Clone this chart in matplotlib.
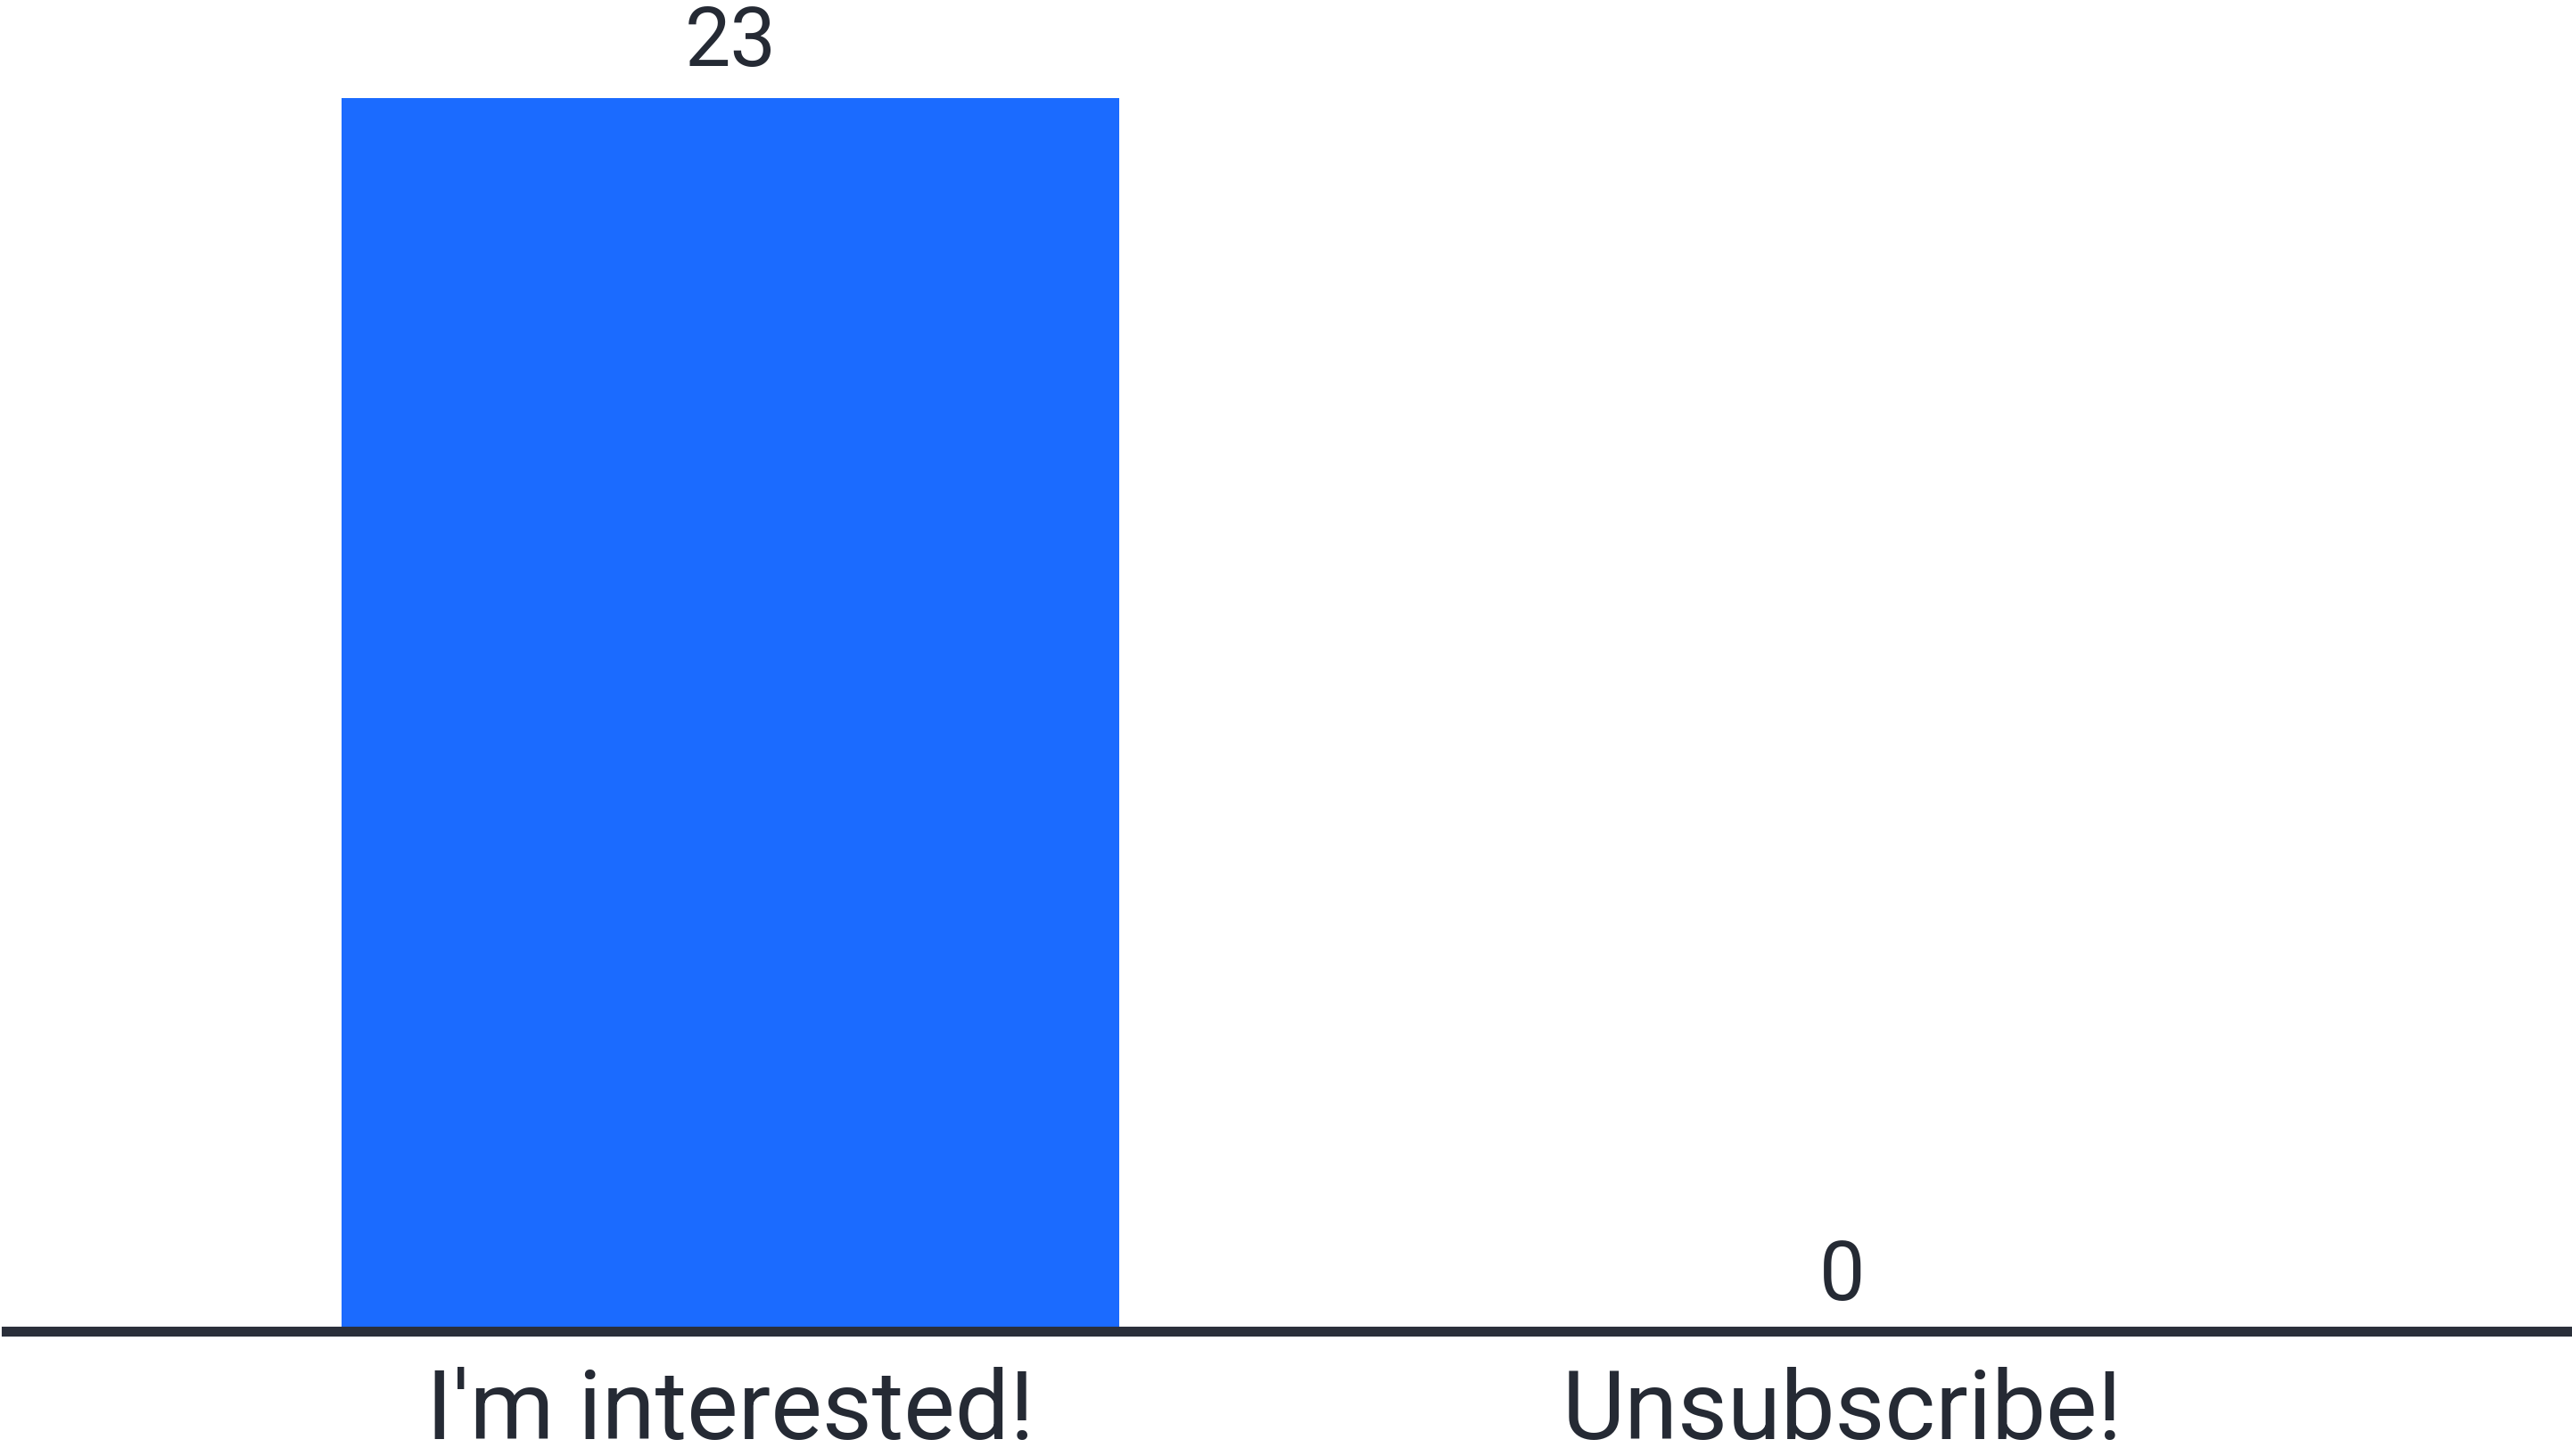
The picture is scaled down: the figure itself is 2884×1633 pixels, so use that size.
import matplotlib.pyplot as plt

# poll results
categories = ["I'm interested!", "Unsubscribe!"]
votes = [23, 0]

bar_color = '#1b6bff'
text_color = '#252a34'

plt.rcParams['font.family'] = ['Roboto', 'DejaVu Sans']

fig = plt.figure(figsize=(14.42, 8.168), dpi=200)
ax = fig.add_axes([7 / 2884, 0.0854, 1 - 7 / 2884, 1 - 0.0854])

x = list(range(len(categories)))
bars = ax.bar(x, votes, width=0.7, color=bar_color, zorder=1)
ax.bar_label(bars, labels=[str(v) for v in votes], padding=6,
             fontsize=33, color=text_color)

ax.set_xlim(-0.652, 1.657)
ax.set_ylim(0, 24.83)

ax.set_xticks(x)
ax.set_xticklabels(categories, fontsize=39, color=text_color)
ax.tick_params(axis='x', length=0, pad=14)
ax.set_yticks([])

for side in ['top', 'left', 'right']:
    ax.spines[side].set_visible(False)
ax.spines['bottom'].set_linewidth(4)
ax.spines['bottom'].set_color('#2a2f3a')
ax.spines['bottom'].set_zorder(3)
ax.patch.set_alpha(0)

fig.savefig('out.png', dpi=200, facecolor='white')
